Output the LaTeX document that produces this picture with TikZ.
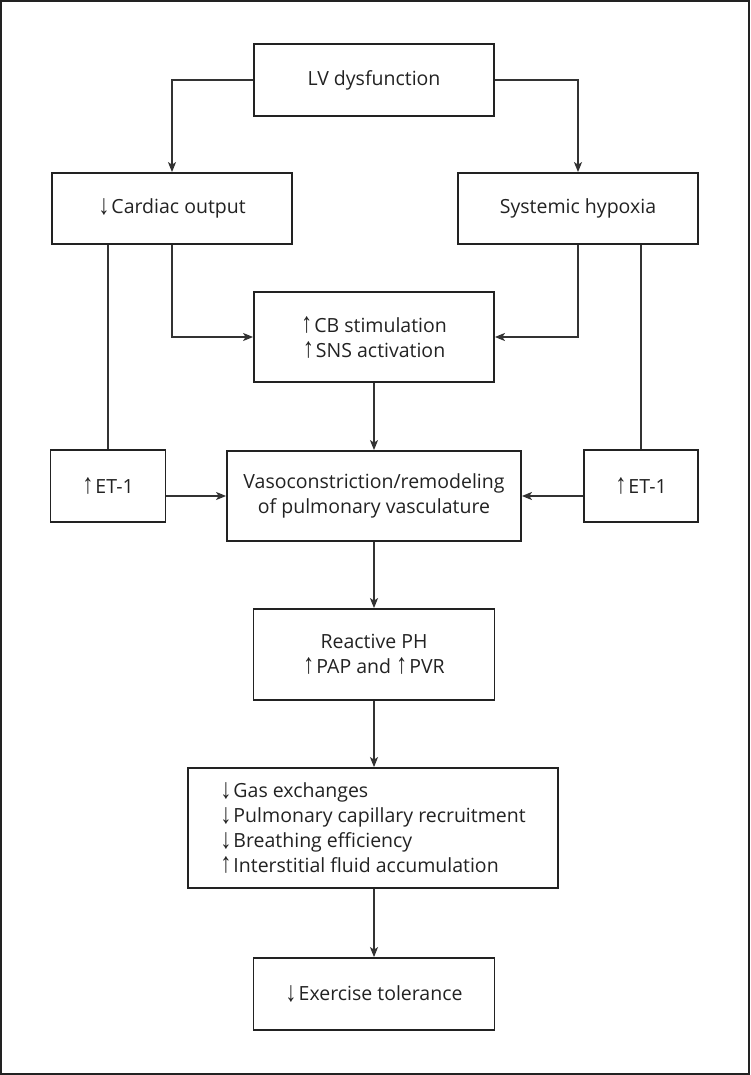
\documentclass[tikz,border=0pt]{standalone}
\usepackage{fontspec}
\usepackage{graphicx}
\setmainfont{Open Sans}
\newfontfamily\arrfont{Liberation Sans}
\usetikzlibrary{arrows.meta}
\newcommand\uparr{\raisebox{0pt}{\scalebox{1.15}[1.45]{\arrfont ↑}}\kern2pt}
\newcommand\dnarr{\raisebox{-1pt}{\scalebox{1.15}[1.45]{\arrfont ↓}}\kern2pt}
\definecolor{ink}{HTML}{222222}
\definecolor{wire}{HTML}{333333}
\begin{document}
\begin{tikzpicture}[x=1pt,y=-1pt,
  box/.style={draw=ink, line width=1.8pt, rectangle, inner sep=0pt,
    align=center, text=ink, font=\fontsize{19.5}{25}\selectfont},
  wirestyle/.style={draw=wire, line width=1.5pt},
  arr/.style={wirestyle, -{Stealth[length=10pt,width=8pt,inset=2.5pt]}}]
\useasboundingbox (0,0) rectangle (750,1075);
\draw[ink, line width=2.4pt] (1.2,1.2) rectangle (748.8,1073.8);

\node[box, minimum width=115pt, minimum height=72pt] (et1) at (108,486) {\uparr ET-1};
\node[box, minimum width=240pt, minimum height=72pt] (lv) at (374,80) {LV dysfunction};
\node[box, minimum width=240pt, minimum height=71pt] (co) at (172,208.5) {\dnarr Cardiac output};
\node[box, minimum width=240pt, minimum height=71pt] (sh) at (578,208.5) {Systemic hypoxia};
\node[box, minimum width=240pt, minimum height=90pt] (cb) at (374,337) {\uparr CB stimulation\\\uparr SNS activation};
\node[box, minimum width=294pt, minimum height=90pt] (vaso) at (374,496) {Vasoconstriction/remodeling\\of pulmonary vasculature};
\node[box, minimum width=114pt, minimum height=72pt] (et2) at (641,486) {\uparr ET-1};
\node[box, minimum width=241pt, minimum height=91pt] (ph) at (374,654.5) {Reactive PH\\\uparr PAP and \uparr PVR};
\node[box, minimum width=370pt, minimum height=120pt, align=left] (list) at (373,828) {\dnarr Gas exchanges\\\dnarr Pulmonary capillary recruitment\\\dnarr Breathing efficiency\\\uparr Interstitial fluid accumulation};
\node[box, minimum width=241pt, minimum height=72pt] (ex) at (374,994) {\dnarr Exercise tolerance};

\draw[arr] (lv.west) -| (co.north);
\draw[arr] (lv.east) -| (sh.north);
\draw[arr] (co.south) |- (cb.west);
\draw[arr] (sh.south) |- (cb.east);
\draw[wirestyle] (co.south -| et1.north) -- (et1.north);
\draw[wirestyle] (sh.south -| et2.north) -- (et2.north);
\draw[arr] (cb.south) -- (vaso.north);
\draw[arr] (et1.east |- vaso.west) -- (vaso.west);
\draw[arr] (et2.west |- vaso.east) -- (vaso.east);
\draw[arr] (vaso.south) -- (ph.north);
\draw[arr] (ph.south) -- (list.north -| ph.south);
\draw[arr] (list.south -| ex.north) -- (ex.north);
\end{tikzpicture}
\end{document}
